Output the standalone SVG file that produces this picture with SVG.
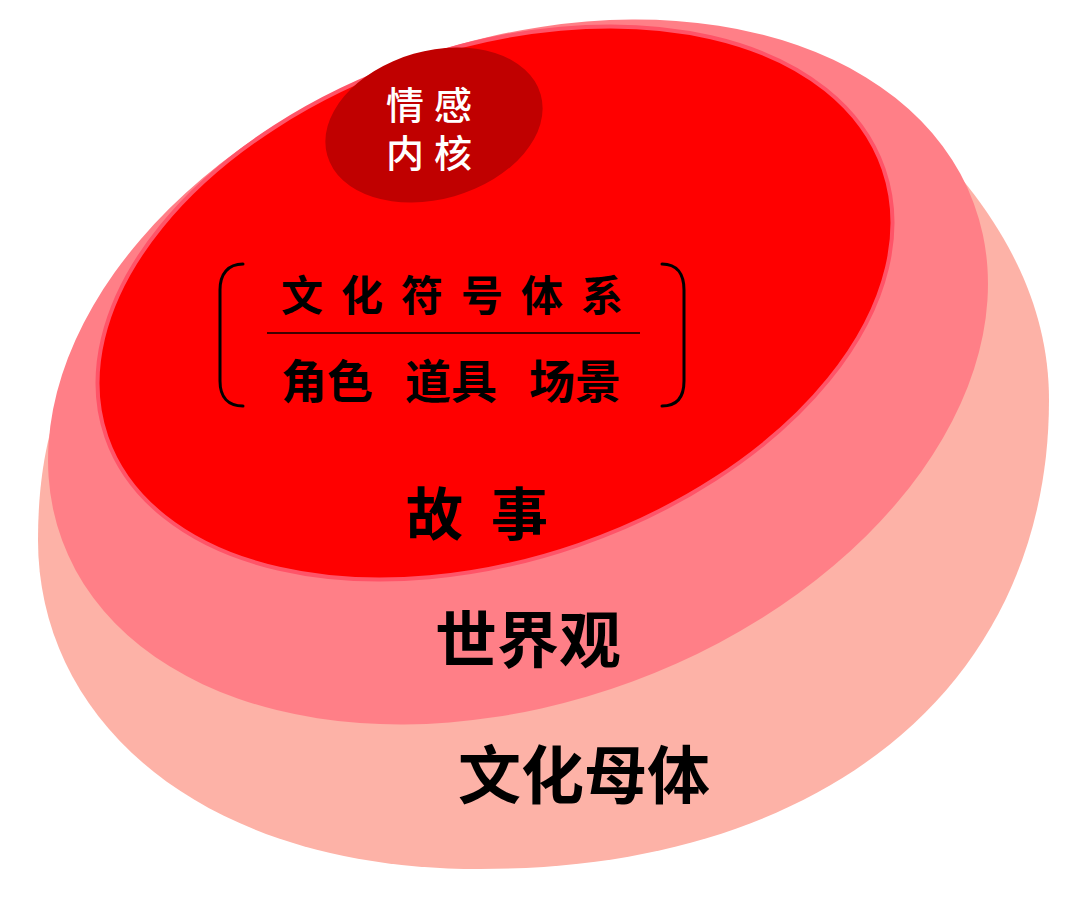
<svg xmlns="http://www.w3.org/2000/svg" width="1080" height="898" viewBox="0 0 1080 898">
<style>
.t{font-family:"Noto Sans CJK SC","Noto Sans",sans-serif;}
.b{font-weight:bold;fill:#000;}
.w{fill:#fff;font-weight:500;}
.br{fill:none;stroke:#000;stroke-width:3;stroke-linecap:round;}
</style>
<rect width="1080" height="898" fill="#fff"/>
<g id="culture-matrix">
<path d="M910,123 C990,200 1049,290 1049,400 C1049,680 830,869 480,869 C200,869 38,720 38,540 C38,500 42,465 50,433 C300,250 600,100 910,123 Z" fill="#FDB2A7"/>
<text class="t b" x="458" y="798" font-size="63">文化母体</text>
</g>
<g id="worldview">
<ellipse cx="518" cy="372" rx="486" ry="330" transform="rotate(-20.3 518 372)" fill="#FF7F87"/>
<text class="t b" x="435" y="663" font-size="62">世界观</text>
</g>
<g id="story">
<ellipse cx="495" cy="303" rx="411" ry="256" transform="rotate(-19 495 303)" fill="#FF0000" stroke="#FF5468" stroke-width="4"/>
<text class="t b" x="406" y="535" font-size="57" letter-spacing="28">故事</text>
</g>
<g id="emotion-core">
<ellipse cx="434" cy="125" rx="111" ry="74" transform="rotate(-16 434 125)" fill="#C00000"/>
<text class="t w" font-size="38" letter-spacing="10"><tspan x="386" y="119">情感</tspan><tspan x="386" y="167">内核</tspan></text>
</g>
<g id="symbol-system">
<path class="br" d="M243,264 C228,264 220,274 220,290 L220,381 C220,397 228,406 243,406"/>
<path class="br" d="M662,264 C677,264 684,274 684,290 L684,381 C684,397 677,406 662,406"/>
<text class="t b" x="281" y="311" font-size="42" letter-spacing="18">文化符号体系</text>
<line x1="267" y1="333" x2="640" y2="333" stroke="#000" stroke-width="1.5"/>
<text class="t b" font-size="46" y="398"><tspan x="281">角色</tspan><tspan x="405">道具</tspan><tspan x="529">场景</tspan></text>
</g>
<g id="connectors"></g>
</svg>
